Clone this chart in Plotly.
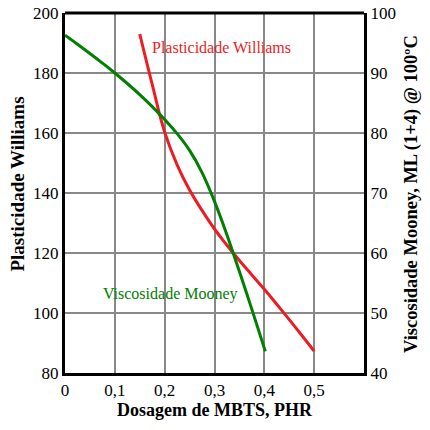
"""Plasticidade Williams / Viscosidade Mooney vs. dosagem de MBTS (dual y-axis)."""

import plotly.graph_objects as go

# dosagem MBTS (PHR) vs Plasticidade Williams (eixo esquerdo)
williams_x = [0.15, 0.175, 0.2, 0.225, 0.25, 0.275, 0.3, 0.325, 0.35, 0.375, 0.4, 0.425, 0.45, 0.475, 0.5]
williams_y = [193, 176.2, 160.3, 149.4, 141, 134.2, 128, 122.6, 117.5, 112.7, 107.9, 102.9, 97.8, 92.6, 87.3]

# dosagem MBTS (PHR) vs Viscosidade Mooney (eixo direito)
mooney_x = [0, 0.025, 0.05, 0.075, 0.1, 0.125, 0.15, 0.175, 0.2, 0.225, 0.25,
            0.275, 0.3, 0.325, 0.35, 0.375, 0.402]
mooney_y = [96.3, 94.8, 93.25, 91.65, 90.0, 88.25, 86.4, 84.4, 82.25, 79.9, 77.1,
            73.4, 68.6, 63.0, 56.9, 50.6, 43.6]

x_tickvals = [0, 0.1, 0.2, 0.3, 0.4, 0.5]
x_ticktext = ["0", "0,1", "0,2", "0,3", "0,4", "0,5"]

RED = "#ed1c24"
GREEN = "#008000"
FONT = "Liberation Serif"

fig = go.Figure()
fig.add_trace(go.Scatter(
    x=williams_x, y=williams_y, mode="lines",
    line=dict(color=RED, width=3, shape="spline", smoothing=1.2),
    name="Plasticidade Williams",
))
fig.add_trace(go.Scatter(
    x=mooney_x, y=mooney_y, mode="lines", yaxis="y2",
    line=dict(color=GREEN, width=3, shape="spline", smoothing=1.2),
    name="Viscosidade Mooney",
))

# series labels inside the plot
fig.add_annotation(x=0.315, y=188.4, text="Plasticidade Williams", showarrow=False,
                   font=dict(color=RED, size=16, family=FONT))
fig.add_annotation(x=0.212, y=106.5, text="Viscosidade Mooney", showarrow=False,
                   font=dict(color=GREEN, size=16, family=FONT))

# y-axis titles as annotations so they sit where the original has them
fig.add_annotation(xref="paper", yref="paper", x=-0.16, y=0.524, textangle=-90,
                   xanchor="center", yanchor="middle",
                   text="<b>Plasticidade Williams</b>", showarrow=False,
                   font=dict(size=19, family=FONT, color="black"))
fig.add_annotation(xref="paper", yref="paper", x=1.157, y=0.497, textangle=-90,
                   xanchor="center", yanchor="middle",
                   text="<b>Viscosidade Mooney, ML (1+4) @ 100ºC</b>", showarrow=False,
                   font=dict(size=18.5, family=FONT, color="black"))

axis_common = dict(
    showline=True, linecolor="black", linewidth=3, mirror=False,
    showgrid=True, gridcolor="#888888", gridwidth=1.5,
    ticks="", zeroline=False, automargin=False, ticklabeloverflow="allow",
    tickfont=dict(size=17, family=FONT, color="black"),
)

# page body has an 8px margin, so the figure is a bit smaller than the window
fig.update_layout(
    width=422, height=422,
    showlegend=False,
    plot_bgcolor="white", paper_bgcolor="white",
    margin=dict(l=57, r=66, t=5, b=57),
    font=dict(family=FONT, color="black"),
    xaxis=dict(
        range=[0, 0.6], tickvals=x_tickvals, ticktext=x_ticktext,
        title=dict(text="<b>Dosagem de MBTS, PHR</b>", font=dict(size=18, family=FONT), standoff=4),
        **axis_common,
    ),
    yaxis=dict(range=[80, 200], dtick=20, **axis_common),
    yaxis2=dict(
        range=[40, 100], dtick=10, overlaying="y", side="right",
        **{**axis_common, "showgrid": False},
    ),
    shapes=[dict(type="line", xref="paper", yref="paper", x0=0, x1=1, y0=1, y1=1,
                 line=dict(color="black", width=3))],
)

fig.write_html("out.html")
